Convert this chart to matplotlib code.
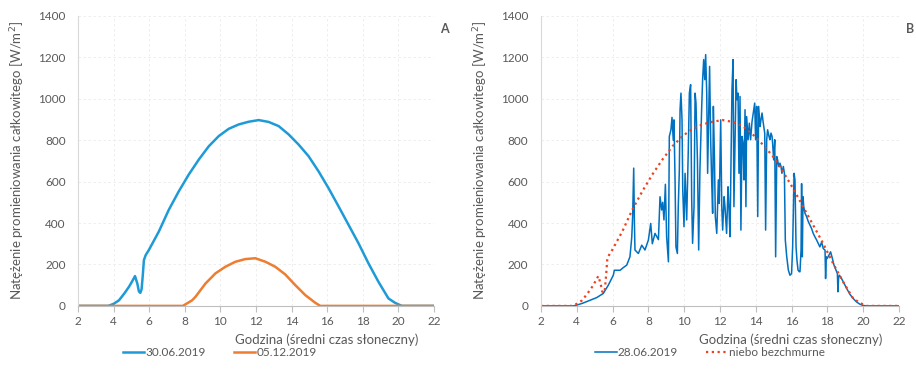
import matplotlib
matplotlib.use("Agg")
import matplotlib.pyplot as plt

plt.rcParams['font.family'] = ['Lato', 'DejaVu Sans']

# --- dane ---
# niebo bezchmurne / 30.06.2019
godz_jasno = [2, 3.7, 4.0, 4.3, 4.6, 4.86, 5.05, 5.2, 5.33, 5.42, 5.5, 5.57, 5.64,
              5.7, 5.8, 5.98, 6.54, 7.1, 7.66, 8.22, 8.79, 9.35, 9.91, 10.47, 11.03,
              11.59, 12.15, 12.71, 13.27, 13.83, 14.39, 14.95, 15.51, 16.07, 16.64,
              17.2, 17.76, 18.32, 18.88, 19.44, 19.81, 20.19, 22]
prom_jasno = [0, 0, 10, 27, 60, 92, 120, 144, 108, 70, 63, 80, 150,
              221, 245, 270, 359, 464, 553, 634, 707, 771, 820, 855, 876,
              889, 897, 888, 868, 828, 779, 723, 650, 569, 480,
              391, 302, 205, 116, 36, 15, 0, 0]

# 05.12.2019
godz_grudzien = [2, 7.89, 8.41, 8.6, 9.16, 9.72, 10.28, 10.84, 11.4, 11.96, 12.53,
                 13.08, 13.64, 14.21, 14.77, 15.33, 15.61, 22]
prom_grudzien = [0, 0, 27, 44, 108, 157, 189, 213, 226, 230, 213,
                 189, 152, 100, 52, 15, 0, 0]

# 28.06.2019 (zachmurzenie zmienne)
godz_czerwiec = [2, 3.8, 4.0, 4.3, 4.74, 5.11, 5.48, 5.76, 6.04, 6.1, 6.42, 6.6, 6.79,
                 6.97, 7.07, 7.12, 7.18, 7.22, 7.25, 7.44, 7.63, 7.81, 8.0, 8.13, 8.22,
                 8.37, 8.56, 8.65, 8.74, 8.8, 8.87, 8.95, 9.02, 9.12, 9.17, 9.26, 9.32,
                 9.39, 9.43, 9.49, 9.54, 9.62, 9.67, 9.73, 9.77, 9.82, 9.88, 9.92, 9.99,
                 10.05, 10.14, 10.23, 10.29, 10.36, 10.42, 10.47, 10.55, 10.61, 10.66,
                 10.74, 10.81, 10.88, 10.98, 11.03, 11.09, 11.15, 11.2, 11.26, 11.31,
                 11.37, 11.42, 11.48, 11.54, 11.59, 11.63, 11.69, 11.74, 11.82, 11.91,
                 11.96, 12.04, 12.1, 12.15, 12.23, 12.28, 12.37, 12.45, 12.5, 12.56,
                 12.62, 12.67, 12.73, 12.78, 12.84, 12.9, 12.95, 13.01, 13.06, 13.12,
                 13.17, 13.23, 13.29, 13.34, 13.4, 13.45, 13.49, 13.57, 13.64, 13.71,
                 13.79, 13.86, 13.94, 13.99, 14.05, 14.11, 14.16, 14.24, 14.29, 14.35,
                 14.42, 14.5, 14.55, 14.61, 14.66, 14.74, 14.79, 14.85, 14.91, 14.94,
                 15.0, 15.06, 15.11, 15.17, 15.22, 15.28, 15.35, 15.41, 15.46, 15.54,
                 15.6, 15.65, 15.73, 15.82, 15.91, 16.0, 16.06, 16.14, 16.19, 16.25,
                 16.3, 16.36, 16.43, 16.47, 16.53, 16.56, 16.6, 16.64, 16.68, 16.75,
                 16.84, 16.93, 17.03, 17.12, 17.21, 17.3, 17.4, 17.49, 17.58, 17.68,
                 17.77, 17.87, 17.9, 17.94, 17.99, 18.09, 18.18, 18.28, 18.37, 18.48,
                 18.56, 18.59, 18.63, 18.67, 18.74, 18.89, 19.08, 19.26, 19.45, 19.63,
                 19.82, 20.0, 20.2, 22]
prom_czerwiec = [0, 0, 4, 12, 27, 40, 60, 100, 148, 172, 172, 185, 197,
                 237, 330, 430, 665, 400, 270, 253, 293, 270, 318, 398, 300,
                 350, 320, 527, 463, 500, 415, 587, 334, 213, 818, 850, 910,
                 800, 898, 608, 285, 253, 479, 656, 947, 1027, 898, 560, 382,
                 640, 415, 753, 1027, 1068, 511, 302, 479, 1027, 979,
                 705, 270, 656, 963, 1092, 1189, 1092, 1213, 1027, 640,
                 931, 1156, 802, 592, 447, 963, 721, 431, 350, 608,
                 495, 898, 479, 366, 527, 479, 350, 575, 479, 334,
                 705, 1043, 1189, 479, 802, 1092, 995, 1027, 640, 1011,
                 366, 818, 785, 608, 947, 479, 914, 802, 882, 802,
                 889, 931, 979, 802, 963, 431, 963, 866, 898, 931,
                 882, 834, 366, 802, 850, 818, 802, 834, 818, 785,
                 705, 802, 237, 721, 705, 673, 689, 673, 640, 673,
                 640, 318, 237, 173, 148, 156, 285, 640, 608, 285,
                 221, 173, 165, 165, 270, 590, 237, 527, 479, 447,
                 431, 408, 390, 373, 350, 334, 318, 302, 285, 308,
                 277, 269, 132, 237, 229, 245, 261, 229, 197, 173,
                 156, 68, 140, 148, 140, 116, 84, 56, 35, 19,
                 8, 2, 0, 0]

x_ticks = list(range(2, 23, 2))
y_ticks = list(range(0, 1401, 200))

szary = '#595959'
fig = plt.figure(figsize=(9.16, 3.69), dpi=100)
axA = fig.add_axes([0.0852, 0.171, 0.3886, 0.786])
axB = fig.add_axes([0.5906, 0.171, 0.3908, 0.786])


def styl(ax, litera):
    ax.set_xlim(2, 22)
    ax.set_ylim(0, 1400)
    ax.set_xticks(x_ticks)
    ax.set_yticks(y_ticks)
    ax.grid(True, color='#EBEBEB', linestyle=(0, (3, 3)), linewidth=0.6)
    ax.set_axisbelow(True)
    for s in ['top', 'right']:
        ax.spines[s].set_visible(False)
    ax.spines['left'].set_color('#D9D9D9')
    ax.spines['bottom'].set_color('#BFBFBF')
    ax.tick_params(axis='x', colors='#BFBFBF', labelcolor=szary, labelsize=8.5,
                   length=4, direction='out', pad=3)
    ax.tick_params(axis='y', labelcolor=szary, labelsize=8.5, length=0, pad=9)
    ax.text(0.955, -0.117, 'Godzina (średni czas słoneczny)', transform=ax.transAxes,
            color=szary, fontsize=9.5, ha='right', va='center')
    ax.set_ylabel('Natężenie promieniowania całkowitego [W/m$^2$]', color=szary,
                  fontsize=9.5, labelpad=8)
    ax.text(1.03, 0.955, litera, transform=ax.transAxes, fontsize=9,
            fontweight='bold', color=szary, ha='center', va='center')


axA.plot(godz_jasno, prom_jasno, color='#1E9BD7', linewidth=1.8, label='30.06.2019')
axA.plot(godz_grudzien, prom_grudzien, color='#ED7D31', linewidth=1.8, label='05.12.2019')
styl(axA, 'A')

axB.plot(godz_czerwiec, prom_czerwiec, color='#0070C0', linewidth=1.1, label='28.06.2019')
axB.plot(godz_jasno, prom_jasno, color='#F0401E', linewidth=1.6, linestyle=(0, (1, 1.6)),
         label='niebo bezchmurne')
styl(axB, 'B')

for ax, xc in [(axA, 220 / 916), (axB, 710 / 916)]:
    h, l = ax.get_legend_handles_labels()
    leg = fig.legend(h, l, loc='center', bbox_to_anchor=(xc, 1 - 353 / 369), ncol=2,
                     frameon=False, fontsize=8.5, handlelength=1.8, handletextpad=0.1,
                     columnspacing=2.4)
    for t in leg.get_texts():
        t.set_color(szary)

fig.savefig('out.png', dpi=100)
